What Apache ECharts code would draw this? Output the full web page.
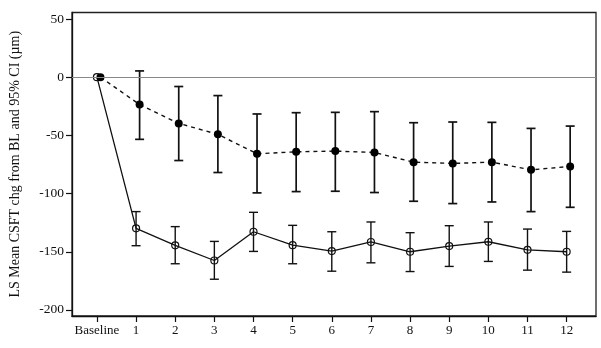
<!DOCTYPE html>
<html>
<head>
<meta charset="utf-8">
<script src="https://cdn.jsdelivr.net/npm/echarts@6/dist/echarts.min.js"></script>
<style>html,body{margin:0;padding:0;background:#fff}#c{width:601px;height:348px}</style>
</head>
<body>
<div id="c"></div>
<script>
// ---- data ----
var visitLabels = ['Baseline','1','2','3','4','5','6','7','8','9','10','11','12'];
var yTicks = [-200, -150, -100, -50, 0, 50];

var filledMean  = [0, -23.5, -39.7, -49.1, -65.8, -64.1, -63.5, -64.7, -73.0, -74.1, -73.0, -79.6, -76.7];
var filledUpper = [0,   5.4,  -8.0, -15.8, -31.6, -30.5, -30.2, -29.6, -39.1, -38.5, -38.8, -44.0, -42.0];
var filledLower = [0, -53.4, -71.6, -81.9, -99.4, -98.3, -98.0, -99.1, -106.6, -108.6, -107.2, -115.5, -111.8];

var openMean  = [0, -129.9, -144.5, -157.5, -132.8, -144.3, -149.4, -141.6, -150.0, -145.1, -141.4, -148.3, -150.0];
var openUpper = [0, -115.5, -128.4, -141.1, -116.1, -127.3, -132.8, -124.4, -133.6, -127.6, -124.4, -130.5, -132.5];
var openLower = [0, -144.8, -160.3, -173.6, -149.7, -160.3, -166.7, -159.5, -167.0, -162.6, -158.3, -165.8, -167.5];

// ---- layout / style ----
var FILLED_SHIFT = 0.09;   // slight horizontal dodge of the filled-circle group
var FONT = "'Liberation Serif', 'DejaVu Serif', serif";

function pts(mean, shift) {
  return mean.map(function (v, i) { return [i + shift, v]; });
}
function bars(lower, upper, shift) {
  var out = [];
  for (var i = 0; i < lower.length; i++) {
    if (upper[i] !== lower[i]) out.push([i + shift, lower[i], upper[i]]);
  }
  return out;
}
function errRender(width) {
  return function (params, api) {
    var x = api.value(0);
    var lo = api.coord([x, api.value(1)]);
    var hi = api.coord([x, api.value(2)]);
    var hw = 4.5;
    var st = { stroke: '#111', lineWidth: width };
    return {
      type: 'group',
      children: [
        { type: 'line', shape: { x1: lo[0], y1: lo[1], x2: hi[0], y2: hi[1] }, style: st },
        { type: 'line', shape: { x1: lo[0] - hw, y1: lo[1], x2: lo[0] + hw, y2: lo[1] }, style: st },
        { type: 'line', shape: { x1: hi[0] - hw, y1: hi[1], x2: hi[0] + hw, y2: hi[1] }, style: st }
      ]
    };
  };
}

var chart = echarts.init(document.getElementById('c'), null, { renderer: 'canvas' });
chart.setOption({
  animation: false,
  backgroundColor: '#fff',
  grid: {
    left: 71, right: 5, top: 12.5, bottom: 32,
    show: true, borderColor: '#222', borderWidth: 1.3, backgroundColor: 'transparent'
  },
  xAxis: {
    type: 'value',
    min: -0.637, max: 12.75,
    axisLine: { show: true, onZero: false, lineStyle: { color: '#111', width: 1.3 } },
    axisTick: { show: true, length: 6, customValues: visitLabels.map(function (_, i) { return i; }), lineStyle: { color: '#111', width: 1.2 } },
    axisLabel: {
      customValues: visitLabels.map(function (_, i) { return i; }),
      formatter: function (v) { return visitLabels[Math.round(v)]; },
      color: '#111', fontFamily: FONT, fontSize: 13, margin: 8
    },
    splitLine: { show: false }
  },
  yAxis: {
    type: 'value',
    min: -205.2, max: 55.6,
    name: 'LS Mean CSFT chg from BL and 95% CI (µm)',
    nameLocation: 'middle',
    nameGap: 50,
    nameTextStyle: { color: '#111', fontFamily: FONT, fontSize: 14 },
    axisLine: { show: true, onZero: false, lineStyle: { color: '#111', width: 1.3 } },
    axisTick: { show: true, length: 6, customValues: yTicks, lineStyle: { color: '#111', width: 1.2 } },
    axisLabel: { customValues: yTicks, color: '#111', fontFamily: FONT, fontSize: 13.5, margin: 8 },
    splitLine: { show: false }
  },
  series: [
    {
      type: 'line',
      data: pts(openMean, 0),
      symbol: 'circle', symbolSize: 7,
      itemStyle: { color: 'rgba(0,0,0,0)', borderColor: '#111', borderWidth: 1.2 },
      lineStyle: { color: '#111', width: 1.3, type: 'solid' },
      z: 3,
      markLine: {
        silent: true, symbol: 'none', label: { show: false },
        lineStyle: { color: '#888', width: 1.2, type: 'solid' },
        data: [{ yAxis: 0 }]
      }
    },
    {
      type: 'line',
      data: pts(filledMean, FILLED_SHIFT),
      symbol: 'circle', symbolSize: 8,
      itemStyle: { color: '#000', borderColor: '#000', borderWidth: 0 },
      lineStyle: { color: '#111', width: 1.4, type: [4, 4] },
      z: 3
    },
    {
      type: 'custom',
      renderItem: errRender(1.4),
      data: bars(openLower, openUpper, 0),
      encode: { x: 0, y: [1, 2] },
      z: 2
    },
    {
      type: 'custom',
      renderItem: errRender(1.7),
      data: bars(filledLower, filledUpper, FILLED_SHIFT),
      encode: { x: 0, y: [1, 2] },
      z: 2
    }
  ]
});
</script>
</body>
</html>
